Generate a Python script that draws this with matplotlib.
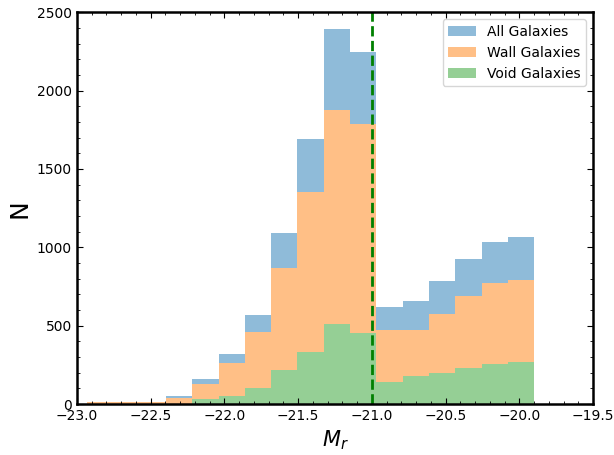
import matplotlib.pyplot as plt
import numpy as np
from matplotlib.patches import Patch
from matplotlib.ticker import MultipleLocator

# Absolute r-band magnitude histogram, split into wall and void galaxies
n_bins = 17
mag_min, mag_max = -22.93, -19.90
mag_cut = -21.0

all_counts = [15, 15, 15, 53, 162, 321, 570, 1093, 1692, 2394, 2247,
              621, 659, 786, 927, 1035, 1067]
wall_counts = [15, 15, 15, 40, 130, 264, 461, 869, 1354, 1877, 1788,
               474, 474, 576, 691, 774, 793]
void_counts = [0, 0, 0, 3, 30, 53, 104, 219, 334, 512, 455,
               142, 181, 200, 232, 257, 270]

labels = ['All Galaxies', 'Wall Galaxies', 'Void Galaxies']
colors = ['#8fbbd9', '#ffbf86', '#95cf95']

edges = np.linspace(mag_min, mag_max, n_bins + 1)

fig = plt.figure(figsize=(6.14, 4.55), dpi=100)
ax = fig.add_axes([0.125, 0.112, 0.841, 0.861])

for counts, color in zip([all_counts, wall_counts, void_counts], colors):
    ax.stairs(counts, edges, fill=True, color=color, linewidth=0)

ax.axvline(mag_cut, color='g', linestyle='--', linewidth=2)

ax.set_xlim(-23.0, -19.5)
ax.set_ylim(0, 2500)
ax.xaxis.set_major_locator(MultipleLocator(0.5))
ax.xaxis.set_minor_locator(MultipleLocator(0.1))
ax.yaxis.set_major_locator(MultipleLocator(500))
ax.yaxis.set_minor_locator(MultipleLocator(100))
ax.tick_params(which='both', direction='in', top=True, right=True,
               labelsize=10)
ax.tick_params(which='major', length=4.5)
ax.tick_params(which='minor', length=2)
for spine in ax.spines.values():
    spine.set_linewidth(1.8)

ax.set_xlabel('$M_r$', fontsize=15)
ax.set_ylabel('N', fontsize=18)

handles = [Patch(facecolor=c, edgecolor='none') for c in colors]
ax.legend(handles, labels, loc='upper right', fontsize=10)

fig.savefig('out.png', dpi=100)
